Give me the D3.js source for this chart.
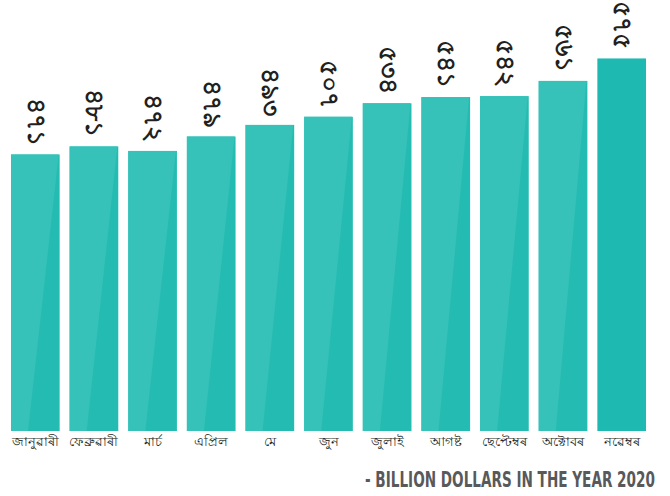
<!DOCTYPE html>
<html><head><meta charset="utf-8">
<script src="https://cdn.jsdelivr.net/npm/d3@7"></script>
<style>
  body { margin: 0; background: #fff; }
</style>
</head><body>
<svg id="chart" width="670" height="496"></svg>
<script>
// Months (Assamese)
const months = ['জানুৱাৰী', 'ফেব্ৰুৱাৰী', 'মাৰ্চ', 'এপ্ৰিল', 'মে', 'জুন',
  'জুলাই', 'আগষ্ট', 'ছেপ্টেম্বৰ', 'অক্টোবৰ', 'নৱেম্বৰ'];
// Bar values
const values = [468, 477, 472, 488, 501, 510, 525, 532, 533, 550, 575];
// Numerals printed above the bars (as they appear in the picture)
const valueLabels = ['৪৭১', '৪৮১', '৪৭২', '৪৭৯', '৪৯৩', '৫০৭', '৫৩৪', '৫৪১', '৫৪২', '৫৬১', '৫৭৫'];
const highlightIndex = 10;

const svg = d3.select('#chart');

const x = d3.scaleBand()
  .domain(months)
  .range([6, 651])
  .paddingInner(0.17)
  .paddingOuter(0.085);

const y = d3.scaleLinear()
  .domain([160, 600])
  .range([431, 36]);

const data = months.map((m, i) => ({ month: m, value: values[i], label: valueLabels[i], i }));

const bars = svg.append('g')
  .selectAll('g')
  .data(data)
  .join('g');

// Base bar
bars.append('rect')
  .attr('x', d => x(d.month))
  .attr('y', d => y(d.value))
  .attr('width', x.bandwidth())
  .attr('height', d => y.range()[0] - y(d.value))
  .attr('fill', d => d.i === highlightIndex ? '#1EBAB2' : '#24BCB2');

// Glossy lighter overlay on the left part of normal bars
bars.filter(d => d.i !== highlightIndex)
  .append('path')
  .attr('d', d => {
    const x0 = x(d.month);
    const w = x.bandwidth();
    const top = y(d.value);
    const bottom = y.range()[0];
    return `M${x0},${top}L${x0 + w - 1},${top}L${x0 + w * 0.35},${bottom}L${x0},${bottom}Z`;
  })
  .attr('fill', '#37C2B9');

// Value labels, rotated to read top to bottom
bars.append('text')
  .attr('transform', d => `translate(${x(d.month) + x.bandwidth() / 2},${y(d.value) - 9}) rotate(90)`)
  .attr('text-anchor', 'end')
  .attr('dy', '0.3em')
  .attr('font-size', 25)
  .attr('font-weight', 'bold')
  .attr('fill', '#231F20')
  .text(d => d.label);

// Month labels
svg.append('g')
  .selectAll('text')
  .data(months)
  .join('text')
  .attr('x', d => x(d) + x.bandwidth() / 2)
  .attr('y', 446)
  .attr('text-anchor', 'middle')
  .attr('font-size', 13)
  .attr('fill', '#231F20')
  .text(d => d);

// Caption
svg.append('text')
  .attr('transform', 'translate(365,487) scale(0.72,1)')
  .attr('font-family', 'DejaVu Sans Condensed')
  .attr('font-weight', 'bold')
  .attr('font-size', 21)
  .attr('fill', '#58595B')
  .text('- BILLION DOLLARS IN THE YEAR 2020');
</script>
</body></html>
